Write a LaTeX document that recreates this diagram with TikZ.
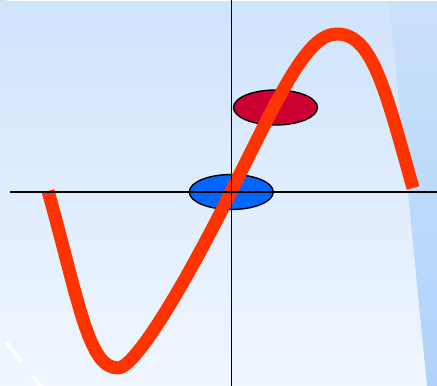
\documentclass[tikz,border=0pt]{standalone}
\usepackage{tikz}
\usetikzlibrary{shapes.geometric}
\definecolor{skytop}{HTML}{CFE3FB}
\definecolor{skybot}{HTML}{F0F7FF}
\definecolor{bandtop}{HTML}{CBE1FB}
\definecolor{bandbot}{HTML}{AFD3FB}
\definecolor{wavered}{HTML}{FF3300}
\definecolor{hotred}{HTML}{CC0033}
\definecolor{coolblue}{HTML}{0066FF}

\begin{document}
\begin{tikzpicture}[
  x=1pt, y=1pt,
  axis/.style={draw=black, line width=1.8pt},
  wave/.style={draw=wavered, line width=13pt, line cap=butt, line join=round},
  blob/.style={ellipse, draw=black, line width=1.4pt, minimum width=84pt,
               minimum height=35pt, inner sep=0pt},
  streak/.style={draw=white, line width=4pt, dash pattern=on 25pt off 18pt}
]
\useasboundingbox (0,0) rectangle (437,386);
% background
\shade[top color=skytop, bottom color=skybot] (0,0) rectangle (437,386);
\shade[top color=bandtop, bottom color=bandbot]
  (389,386) -- (437,386) -- (437,0) -- (427,0) -- cycle;
\fill[white] (7,385) rectangle (437,386);
% dashed streak, lower left
\coordinate (s0) at (6,44);
\coordinate (s1) at (50,-12);
\draw[streak] (s0) -- (s1);
% markers
\node[blob, fill=hotred]   (hot)  at (275.5,278.5) {};
\node[blob, fill=coolblue] (cool) at (231.3,194) {};
% the curve
\coordinate (w0) at (48,195);
\coordinate (wmin) at (118,18);
\coordinate (w1) at (231,194);
\coordinate (wmax) at (337,352);
\coordinate (w2) at (413,198);
\draw[wave] (w0) .. controls (79,85) and (88,18) .. (wmin)
  .. controls (133,18) and (176,84) .. (w1)
  .. controls (281,294) and (307,352) .. (wmax)
  .. controls (372,352) and (385,298) .. (w2);
% axes
\coordinate (xl) at (10,194);
\coordinate (xr) at (437,194);
\coordinate (yb) at (231.5,0);
\coordinate (yt) at (231.5,386);
\draw[axis] (xl) -- (xr);
\draw[axis] (yb) -- (yt);
\end{tikzpicture}
\end{document}
